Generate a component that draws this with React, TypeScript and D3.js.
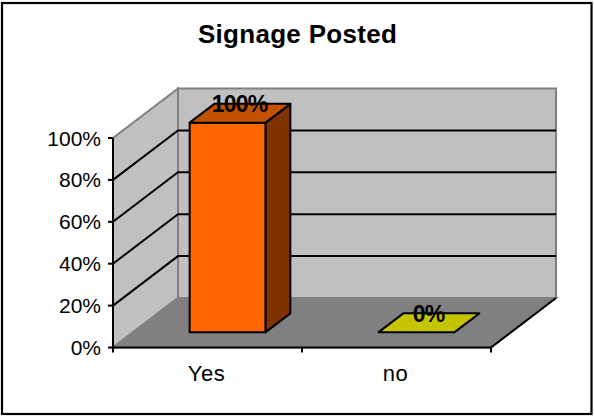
import * as d3 from 'd3';

const title = 'Signage Posted';
const categories = ['Yes', 'no'];
const values = [1, 0];
const valueLabels = ['100%', '0%'];
const yTicks = [0, 0.2, 0.4, 0.6, 0.8, 1];

const width = 594;
const height = 416;
const font = '"Liberation Sans", Arial, sans-serif';

// fake 3d box, depth goes from the front axis to the back wall
const depthX = 65;
const depthY = -49.5;
const barDepth = [0.31, 0.69];
const barWidth = 76;

const x = d3.scaleBand().domain(categories).range([113, 491]);
const y = d3.scaleLinear().domain([0, 1]).range([347.5, 138]);
const fmt = d3.format('.0%');

const pt = (xv: number, v: number, t: number): [number, number] => [xv + depthX * t, y(v) + depthY * t];
const poly = (pts: [number, number][]) => d3.line()(pts) + 'Z';

const x0 = x.range()[0];
const x1 = x.range()[1];

const App = () => {
  return (
    <svg width={width} height={height} style={{ position: 'absolute', left: 0, top: 0 }}>
      <rect x={2} y={3} width={589.5} height={411} fill="#fff" stroke="#000" strokeWidth={2.2} />
      <text x={297.5} y={42.5} textAnchor="middle" fontFamily={font} fontWeight="bold" fontSize={26} letterSpacing={0.3}>{title}</text>

      {/* walls */}
      <path d={poly([pt(x0, 0, 0), pt(x0, 0, 1), pt(x0, 1, 1), pt(x0, 1, 0)])} fill="#c0c0c0" stroke="#808080" strokeWidth={2} />
      <path d={poly([pt(x0, 0, 1), pt(x1, 0, 1), pt(x1, 1, 1), pt(x0, 1, 1)])} fill="#c0c0c0" stroke="#808080" strokeWidth={2} />
      <path d={poly([pt(x0, 0, 0), pt(x1, 0, 0), pt(x1, 0, 1), pt(x0, 0, 1)])} fill="#808080" stroke="#808080" strokeWidth={2} />

      {/* gridlines */}
      {yTicks.filter(t => t > 0 && t < 1).map(t => (
        <path key={t} d={d3.line()([pt(x0, t, 0), pt(x0, t, 1), pt(x1, t, 1)]) as string} fill="none" stroke="#000" strokeWidth={2} />
      ))}

      {/* floor edges and axes */}
      <path d={d3.line()([pt(x1, 0, 0), pt(x1, 0, 1)]) as string} stroke="#000" strokeWidth={2} />
      <path d={d3.line()([pt(x0, 0, 0), pt(x0, 1, 0)]) as string} stroke="#000" strokeWidth={2} />
      <path d={d3.line()([pt(x0, 0, 0), pt(x1, 0, 0)]) as string} stroke="#000" strokeWidth={2} />
      {yTicks.map(t => (
        <g key={t}>
          <line x1={x0 - 5} x2={x0} y1={y(t)} y2={y(t)} stroke="#000" strokeWidth={2} />
          <text x={x0 - 12} y={y(t) + 7.5} textAnchor="end" fontFamily={font} fontSize={21}>{fmt(t)}</text>
        </g>
      ))}
      {[x0, x0 + x.step(), x1].map(v => (
        <line key={v} x1={v} x2={v} y1={y(0)} y2={y(0) + 5} stroke="#000" strokeWidth={2} />
      ))}
      {categories.map(c => (
        <text key={c} x={(x(c) as number) + x.bandwidth() / 2 - 1} y={381} textAnchor="middle" fontFamily={font} fontSize={22} letterSpacing={0.6}>{c}</text>
      ))}

      {/* bars */}
      {categories.map((c, i) => {
        const cx = (x(c) as number) + x.bandwidth() / 2;
        const l = cx - barWidth / 2;
        const r = cx + barWidth / 2;
        const v = values[i];
        const [t0, t1] = barDepth;
        const topFill = v > 0 ? '#c45100' : '#c4c400';
        return (
          <g key={c} stroke="#000" strokeWidth={2} strokeLinejoin="round">
            {v > 0 && <path d={poly([pt(l, 0, t0), pt(r, 0, t0), pt(r, v, t0), pt(l, v, t0)])} fill="#ff6600" />}
            {v > 0 && <path d={poly([pt(r, 0, t0), pt(r, 0, t1), pt(r, v, t1), pt(r, v, t0)])} fill="#803300" />}
            <path d={poly([pt(l, v, t0), pt(r, v, t0), pt(r, v, t1), pt(l, v, t1)])} fill={topFill} />
          </g>
        );
      })}
      {categories.map((c, i) => {
        const cx = (x(c) as number) + x.bandwidth() / 2;
        const p = pt(cx, values[i], 0.5);
        return (
          <text key={c} x={p[0] - 0.5} y={p[1] - 1} textAnchor="middle" fontFamily={font} fontWeight="bold" fontSize={23} letterSpacing={-0.8} fill="#000" stroke="none">{valueLabels[i]}</text>
        );
      })}
    </svg>
  );
};

export default App;
